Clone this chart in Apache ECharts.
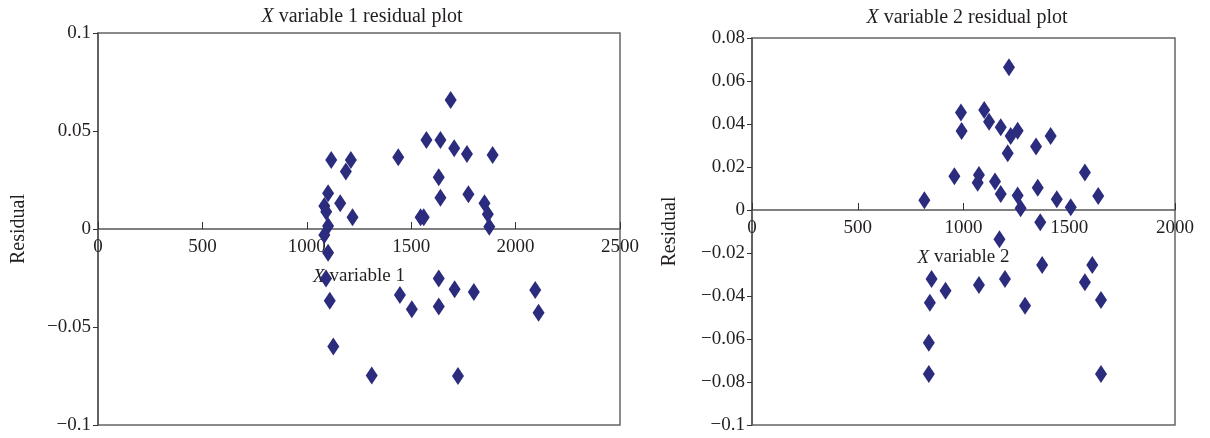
<!DOCTYPE html>
<html lang="en">
<head>
    <meta charset="UTF-8">
    <title>Residual plots</title>
    <script src="https://cdn.jsdelivr.net/npm/echarts@6/dist/echarts.min.js"></script>
    <style>
        body { margin: 0; background: #fff; }
        #chart { width: 1210px; height: 438px; }
    </style>
</head>
<body>
    <div id="chart"></div>
    <script>
        // X variable 1 residual plot
        var x1 = [1117, 1211, 1187, 1102, 1084, 1093, 1160, 1219, 1102, 1438, 1545, 1560, 1689,
            1573, 1640, 1706, 1767, 1890, 1632, 1640, 1774, 1851, 1867, 1874, 1084, 1102, 1092,
            1110, 1127, 1311, 1446, 1503, 1632, 1708, 1800, 1632, 2094, 2110, 1724];
        var res1 = [0.0352, 0.0352, 0.0293, 0.0182, 0.0117, 0.0088, 0.0131, 0.0060, 0.0015, 0.0366, 0.006, 0.006, 0.0658,
            0.0454, 0.0454, 0.0412, 0.0383, 0.0378, 0.0264, 0.016, 0.0177, 0.0131, 0.0075, 0.0012, -0.0031, -0.0121, -0.0252,
            -0.0366, -0.060, -0.0748, -0.0337, -0.041, -0.0252, -0.0308, -0.0321, -0.0396, -0.0311, -0.0427, -0.075];

        // X variable 2 residual plot
        var x2 = [815, 957, 988, 991, 1098, 1121, 1176, 1215, 1223, 1256, 1209, 1343, 1412,
            1073, 1067, 1149, 1176, 1256, 1270, 1351, 1441, 1507, 1574, 1637, 1363, 1170,
            1372, 1609, 849, 915, 1073, 1196, 1574, 1291, 841, 1650, 836, 836, 1650];
        var res2 = [0.0045, 0.0157, 0.0453, 0.0367, 0.0465, 0.0411, 0.0385, 0.0664, 0.0344, 0.0369, 0.0264, 0.0295, 0.0344,
            0.0163, 0.0127, 0.0132, 0.0074, 0.0068, 0.0008, 0.0104, 0.005, 0.0013, 0.0174, 0.0065, -0.0057, -0.0136,
            -0.0256, -0.0256, -0.0321, -0.0375, -0.0349, -0.0321, -0.0336, -0.0445, -0.0431, -0.0419, -0.0617, -0.0763, -0.0763];

        var titles = ['{i|X} variable 1 residual plot', '{i|X} variable 2 residual plot'];
        var xNames = ['{i|X} variable 1', '{i|X} variable 2'];

        function pairs(xs, ys) {
            return xs.map(function (x, i) { return [x, ys[i]]; });
        }

        var font = 'Liberation Serif';
        var textColor = '#231f20';
        var richName = { i: { fontStyle: 'italic', fontFamily: font, fontSize: 19, color: textColor } };
        var richTitle = { i: { fontStyle: 'italic', fontFamily: font, fontSize: 20, color: textColor } };

        function yFmt(v) {
            var s = String(+v.toFixed(2));
            return s.replace('-', '\u2212');
        }

        // x axis drawn across the zero line: offset it up from the grid bottom
        var xAxisBase = {
            type: 'value',
            nameLocation: 'middle',
            nameGap: 38,
            nameTextStyle: { fontFamily: font, fontSize: 19, color: textColor, rich: richName },
            axisLine: { onZero: false, lineStyle: { color: '#555', width: 1.5 } },
            axisTick: { inside: true, length: 7, lineStyle: { color: '#333' } },
            axisLabel: { fontFamily: font, fontSize: 19, color: textColor, margin: 9,
                formatter: function (v) { return String(v); } },
            splitLine: { show: false }
        };
        var yAxisBase = {
            type: 'value',
            name: 'Residual',
            nameLocation: 'middle',
            nameRotate: 90,
            nameTextStyle: { fontFamily: font, fontSize: 20, color: textColor },
            axisLine: { show: true, lineStyle: { color: '#555', width: 1.5 } },
            axisTick: { show: true, length: 5, lineStyle: { color: '#333' } },
            axisLabel: { fontFamily: font, fontSize: 19, color: textColor, margin: 7, formatter: yFmt },
            splitLine: { show: false }
        };

        var chart = echarts.init(document.getElementById('chart'));
        chart.setOption({
            animation: false,
            title: [
                { text: titles[0], left: 357, top: 2, textAlign: 'center',
                  textStyle: { fontFamily: font, fontSize: 20, fontWeight: 'normal', color: textColor, rich: richTitle } },
                { text: titles[1], left: 962, top: 3, textAlign: 'center',
                  textStyle: { fontFamily: font, fontSize: 20, fontWeight: 'normal', color: textColor, rich: richTitle } }
            ],
            grid: [
                { left: 98, top: 33, width: 522, height: 392, show: true, borderColor: '#666', borderWidth: 1.5,
                  outerBoundsMode: 'none', containLabel: false },
                { left: 752, top: 38, width: 423, height: 387, show: true, borderColor: '#666', borderWidth: 1.5,
                  outerBoundsMode: 'none', containLabel: false }
            ],
            xAxis: [
                Object.assign({}, xAxisBase, { gridIndex: 0, min: 0, max: 2500, interval: 500, name: xNames[0], offset: -196 }),
                Object.assign({}, xAxisBase, { gridIndex: 1, min: 0, max: 2000, interval: 500, name: xNames[1], offset: -215 })
            ],
            yAxis: [
                Object.assign({}, yAxisBase, { gridIndex: 0, min: -0.1, max: 0.1, interval: 0.05, nameGap: 69 }),
                Object.assign({}, yAxisBase, { gridIndex: 1, min: -0.1, max: 0.08, interval: 0.02, nameGap: 72 })
            ],
            series: [
                { type: 'scatter', xAxisIndex: 0, yAxisIndex: 0, data: pairs(x1, res1),
                  symbol: 'diamond', symbolSize: [12, 18], itemStyle: { color: '#2c2c7e', opacity: 1 } },
                { type: 'scatter', xAxisIndex: 1, yAxisIndex: 1, data: pairs(x2, res2),
                  symbol: 'diamond', symbolSize: [12, 18], itemStyle: { color: '#2c2c7e', opacity: 1 } }
            ]
        });
    </script>
</body>
</html>
